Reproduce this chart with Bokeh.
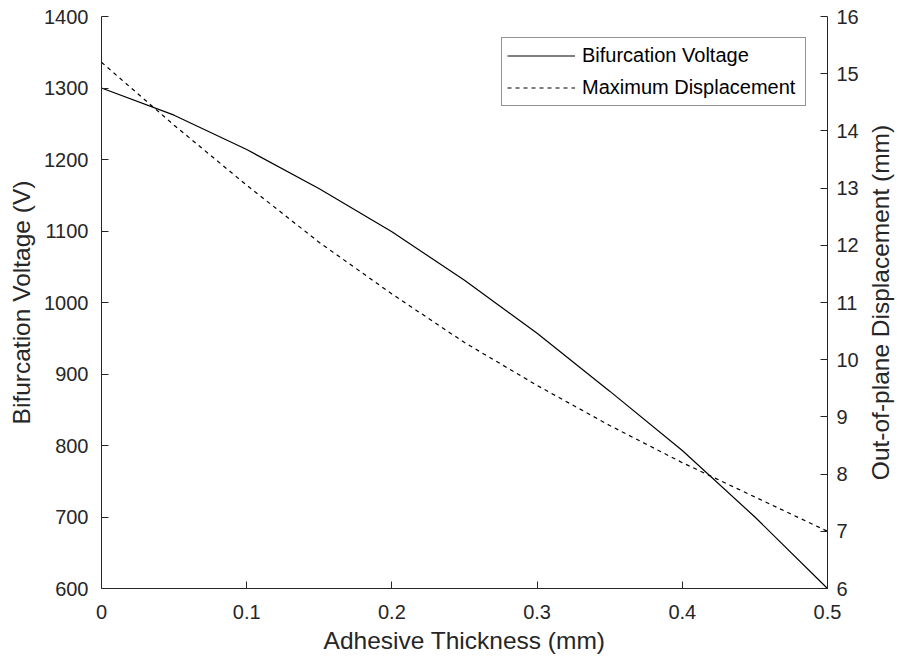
import math
from bokeh.plotting import figure
from bokeh.layouts import row
from bokeh.models import Range1d, LinearAxis, FixedTicker, Legend, LegendItem, Label
from bokeh.embed import file_html
from bokeh.resources import INLINE

# Data
thickness = [0.0, 0.05, 0.1, 0.15, 0.2, 0.25, 0.3, 0.35, 0.4, 0.45, 0.5]
bif_voltage = [1300, 1262, 1214, 1159, 1099, 1031, 957, 876, 793, 700, 600]
max_disp = [15.2, 14.1, 13.05, 12.05, 11.15, 10.3, 9.55, 8.85, 8.2, 7.6, 7.0]

x_ticks = [0, 0.1, 0.2, 0.3, 0.4, 0.5]
x_labels = ["0", "0.1", "0.2", "0.3", "0.4", "0.5"]
left_ticks = [600, 700, 800, 900, 1000, 1100, 1200, 1300, 1400]
right_ticks = [6, 7, 8, 9, 10, 11, 12, 13, 14, 15, 16]

FONT = "Liberation Sans"
AX = "#262626"
LABEL_SIZE = "24.5px"

H = 660
TOP, BOTTOM = 16, 72

p = figure(width=861, height=H, output_backend="svg", toolbar_location=None,
           x_range=Range1d(0, 0.5), y_range=Range1d(600, 1400),
           min_border_left=101, min_border_right=34, min_border_top=TOP, min_border_bottom=BOTTOM)
p.extra_y_ranges = {"disp": Range1d(6, 16)}
p.outline_line_color = None
p.grid.visible = False
p.background_fill_color = "white"

def style(ax):
    ax.axis_line_color = AX
    ax.major_tick_line_color = AX
    ax.minor_tick_line_color = None
    ax.major_tick_in = 7
    ax.major_tick_out = 0
    ax.major_label_text_font = FONT
    ax.major_label_text_font_size = "20px"
    ax.major_label_text_color = AX
    ax.axis_label_text_font = FONT
    ax.axis_label_text_font_size = LABEL_SIZE
    ax.axis_label_text_font_style = "normal"
    ax.axis_label_text_color = AX

xa = p.xaxis[0]
xa.ticker = FixedTicker(ticks=x_ticks)
xa.major_label_overrides = {t: l for t, l in zip(x_ticks, x_labels)}
xa.axis_label = "Adhesive Thickness (mm)"
xa.major_label_standoff = 16
xa.axis_label_standoff = 5
style(xa)

ya = p.yaxis[0]
ya.ticker = FixedTicker(ticks=left_ticks)
ya.axis_label = "Bifurcation Voltage (V)"
ya.major_label_standoff = 13
ya.axis_label_standoff = 6
style(ya)

yr = LinearAxis(y_range_name="disp", ticker=FixedTicker(ticks=right_ticks))
yr.major_label_standoff = 9
style(yr)
p.add_layout(yr, "right")

r1 = p.line(thickness, bif_voltage, line_color="black", line_width=1.2)
r2 = p.line(thickness, max_disp, y_range_name="disp", line_color="black",
            line_width=1.2, line_dash="4 4")

legend = Legend(items=[LegendItem(label="Bifurcation Voltage", renderers=[r1]),
                       LegendItem(label="Maximum Displacement", renderers=[r2])],
                location="top_right")
legend.margin = 21
legend.padding = 5
legend.spacing = 7
legend.label_height = 25
legend.glyph_height = 25
legend.glyph_width = 68
legend.label_width = 218
legend.label_standoff = 7
legend.label_text_font = FONT
legend.label_text_font_size = "20px"
legend.label_text_color = "black"
legend.border_line_color = AX
legend.border_line_width = 1
legend.background_fill_alpha = 1
p.add_layout(legend, "center")

# narrow strip holding the right-axis title, reading bottom-to-top as in the reference
W2 = 36
p2 = figure(width=W2, height=H, output_backend="svg", toolbar_location=None,
            x_range=Range1d(0, W2), y_range=Range1d(0, H),
            x_axis_type=None, y_axis_type=None, min_border=0)
p2.outline_line_color = None
p2.grid.visible = False
right_title = Label(x=W2 * 0.52, y=H - (TOP + (H - TOP - BOTTOM) / 2) - 28,
                    text="Out-of-plane Displacement (mm)",
                    angle=math.pi / 2, text_align="center", text_baseline="middle",
                    text_font=FONT, text_font_size=LABEL_SIZE, text_color=AX)
p2.add_layout(right_title)

layout = row(p, p2, spacing=0)
open("out.html", "w").write(file_html(layout, INLINE))
